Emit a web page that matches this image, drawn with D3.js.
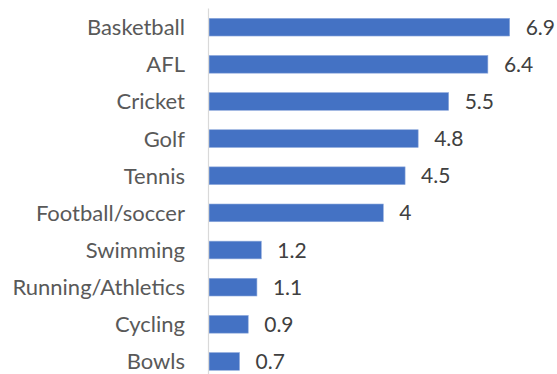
<!DOCTYPE html>
<html>
<head>
<meta charset="utf-8">
<script src="https://cdn.jsdelivr.net/npm/d3@7"></script>
<style>
  html, body { margin: 0; padding: 0; background: #fff; }
  svg { display: block; }
</style>
</head>
<body>
<svg id="chart" width="557" height="374"></svg>
<script>
// Participation by sport
const categories = ["Basketball", "AFL", "Cricket", "Golf", "Tennis", "Football/soccer",
                    "Swimming", "Running/Athletics", "Cycling", "Bowls"];
const values = [6.9, 6.4, 5.5, 4.8, 4.5, 4, 1.2, 1.1, 0.9, 0.7];
const valueLabels = ["6.9", "6.4", "5.5", "4.8", "4.5", "4", "1.2", "1.1", "0.9", "0.7"];

const svg = d3.select("#chart");
const font = "Lato, 'Open Sans', sans-serif";

const x = d3.scaleLinear().domain([0, 4]).range([209, 383.3]);
const y = d3.scaleBand().domain(categories).range([8.6, 380]).paddingInner(0.523).paddingOuter(0.2615);

// bars
svg.selectAll("rect.bar")
  .data(values)
  .enter().append("rect")
  .attr("class", "bar")
  .attr("x", x(0))
  .attr("y", (d, i) => y(categories[i]))
  .attr("width", d => x(d) - x(0))
  .attr("height", y.bandwidth())
  .attr("fill", "#4472C4")
  .attr("stroke", "#8FAADC")
  .attr("stroke-width", 0.6);

// vertical axis line
svg.append("line")
  .attr("x1", 208.5).attr("x2", 208.5)
  .attr("y1", 8.6).attr("y2", 380)
  .attr("stroke", "#D9D9D9").attr("stroke-width", 1.2);

// category labels
svg.selectAll("text.cat")
  .data(categories)
  .enter().append("text")
  .attr("class", "cat")
  .attr("x", 185)
  .attr("y", d => y(d) + y.bandwidth() / 2)
  .attr("dy", "0.36em")
  .attr("text-anchor", "end")
  .attr("font-family", font)
  .attr("font-size", 22)
  .attr("fill", "#595959")
  .text(d => d);

// value labels
svg.selectAll("text.val")
  .data(values)
  .enter().append("text")
  .attr("class", "val")
  .attr("x", d => x(d) + 16)
  .attr("y", (d, i) => y(categories[i]) + y.bandwidth() / 2)
  .attr("dy", "0.36em")
  .attr("font-family", font)
  .attr("font-size", 21)
  .attr("fill", "#404040")
  .text((d, i) => valueLabels[i]);
</script>
</body>
</html>
